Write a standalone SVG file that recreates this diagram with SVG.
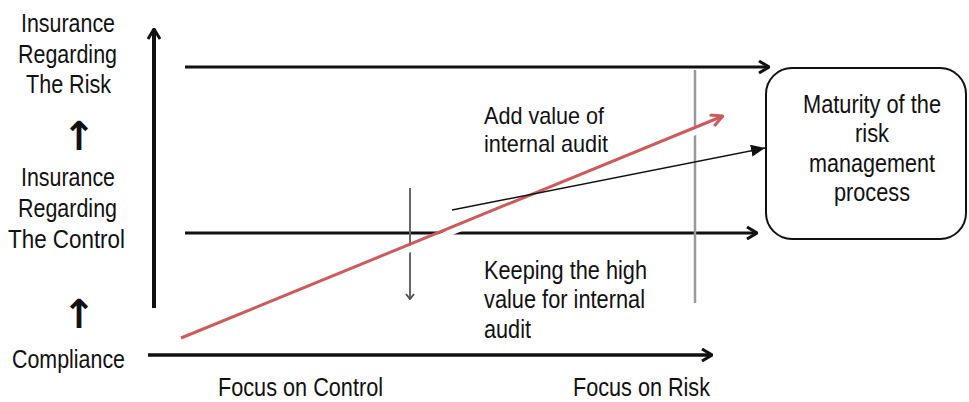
<svg xmlns="http://www.w3.org/2000/svg" width="969" height="402" viewBox="0 0 969 402">
  <style>
    text { font-family: "Liberation Sans Narrow", "Liberation Sans", Arial, sans-serif; font-size: 26px; fill: #111; }
    .mid { text-anchor: middle; }
    .note { font-size: 24px; }
    .sym { font-family: "DejaVu Sans", "Liberation Sans", sans-serif; font-weight: bold; font-size: 40px; text-anchor: middle; fill: #111; }
    .axis { stroke: #111; fill: none; stroke-linecap: butt; }
    .guide { stroke: #999; stroke-width: 2.5; fill: none; }
  </style>
  <defs>
    <marker id="open" viewBox="0 0 12 14" refX="11" refY="7" markerWidth="12" markerHeight="14" markerUnits="userSpaceOnUse" orient="auto">
      <path d="M1,1 L11,7 L1,13" fill="none" stroke="#111" stroke-width="3" stroke-linejoin="miter"/>
    </marker>
    <marker id="openGray" viewBox="0 0 10 10" refX="5" refY="9" markerWidth="10" markerHeight="10" markerUnits="userSpaceOnUse" orient="0">
      <path d="M1,4 L5,9 L9,4" fill="none" stroke="#555" stroke-width="2"/>
    </marker>
    <marker id="openRed" viewBox="0 0 14 14" refX="13" refY="7" markerWidth="14" markerHeight="14" markerUnits="userSpaceOnUse" orient="auto">
      <path d="M1,1 L13,7 L1,13" fill="none" stroke="#cd5b5b" stroke-width="3"/>
    </marker>
    <marker id="solid" viewBox="0 0 14 12" refX="14" refY="6" markerWidth="14" markerHeight="12" markerUnits="userSpaceOnUse" orient="auto">
      <path d="M0,0 L14,6 L0,12 Z" fill="#111"/>
    </marker>
  </defs>

  <!-- level labels on the left -->
  <g id="level-risk">
    <text x="21" y="32" textLength="94" lengthAdjust="spacingAndGlyphs">Insurance</text>
    <text x="18" y="63" textLength="99" lengthAdjust="spacingAndGlyphs">Regarding</text>
    <text x="26" y="93" textLength="85" lengthAdjust="spacingAndGlyphs">The Risk</text>
  </g>
  <text class="sym" x="79" y="150">↑</text>
  <g id="level-control">
    <text x="21" y="186" textLength="94" lengthAdjust="spacingAndGlyphs">Insurance</text>
    <text x="18" y="217" textLength="99" lengthAdjust="spacingAndGlyphs">Regarding</text>
    <text x="8" y="248" textLength="117" lengthAdjust="spacingAndGlyphs">The Control</text>
  </g>
  <text class="sym" x="79" y="328">↑</text>
  <g id="level-compliance">
    <text x="12" y="368" textLength="113" lengthAdjust="spacingAndGlyphs">Compliance</text>
  </g>

  <!-- axis captions -->
  <g id="focus-control">
    <text x="218" y="396" textLength="165" lengthAdjust="spacingAndGlyphs">Focus on Control</text>
  </g>
  <g id="focus-risk">
    <text x="573" y="396" textLength="137" lengthAdjust="spacingAndGlyphs">Focus on Risk</text>
  </g>

  <!-- annotations -->
  <g id="add-value">
    <text class="note" x="484" y="124" textLength="120" lengthAdjust="spacingAndGlyphs">Add value of</text>
    <text class="note" x="484" y="152" textLength="124" lengthAdjust="spacingAndGlyphs">internal audit</text>
  </g>
  <g id="keep-value">
    <text x="484" y="279" textLength="163" lengthAdjust="spacingAndGlyphs">Keeping the high</text>
    <text x="484" y="308" textLength="161" lengthAdjust="spacingAndGlyphs">value for internal</text>
    <text x="484" y="338" textLength="47" lengthAdjust="spacingAndGlyphs">audit</text>
  </g>

  <!-- target node -->
  <g id="maturity">
    <rect x="766" y="68" width="200" height="171" rx="26" ry="26" fill="#fff" stroke="#111" stroke-width="2"/>
    <text class="mid" x="872" y="113" textLength="138" lengthAdjust="spacingAndGlyphs">Maturity of the</text>
    <text class="mid" x="872" y="142" textLength="34" lengthAdjust="spacingAndGlyphs">risk</text>
    <text class="mid" x="872" y="172" textLength="126" lengthAdjust="spacingAndGlyphs">management</text>
    <text class="mid" x="872" y="201" textLength="76" lengthAdjust="spacingAndGlyphs">process</text>
  </g>

  <!-- connectors -->
  <g id="connectors">
    <line class="axis" x1="154" y1="308" x2="154" y2="29" stroke-width="4" marker-end="url(#open)"/>
    <line class="axis" x1="185" y1="67" x2="769" y2="67" stroke-width="3" marker-end="url(#open)"/>
    <line class="axis" x1="185" y1="233" x2="757" y2="233" stroke-width="3" marker-end="url(#open)"/>
    <line class="axis" x1="148" y1="355" x2="712" y2="355" stroke-width="3.5" marker-end="url(#open)"/>
    <line class="guide" x1="695" y1="70" x2="695" y2="303"/>
    <line x1="410" y1="188" x2="410" y2="299" stroke="#666" stroke-width="2" marker-end="url(#openGray)"/>
    <line x1="184" y1="342" x2="727" y2="119" stroke="#fff" stroke-width="6"/>
    <line x1="181" y1="338" x2="723" y2="116" stroke="#cd5b5b" stroke-width="3" marker-end="url(#openRed)"/>
    <line x1="452" y1="210" x2="765" y2="148" stroke="#111" stroke-width="1.5" marker-end="url(#solid)"/>
  </g>
</svg>
